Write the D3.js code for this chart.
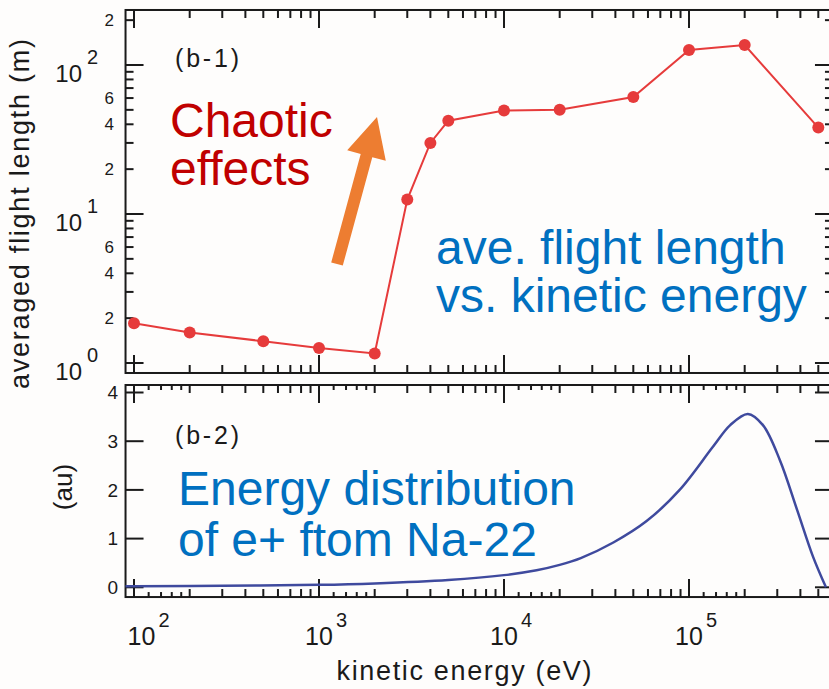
<!DOCTYPE html>
<html>
<head>
<meta charset="utf-8">
<title></title>
<style>
  body { margin: 0; background: #fefdfc; }
  svg { display: block; }
  text { font-family: "Liberation Sans", Arial, sans-serif; fill: #1a1a1a; }
  .frame { fill: none; stroke: #1a1a1a; stroke-width: 2; }
  .tick line { stroke: #1a1a1a; stroke-width: 2; }
</style>
<script src="https://cdnjs.cloudflare.com/ajax/libs/d3/7.8.5/d3.min.js"></script>
</head>
<body>
<svg id="chart" width="829" height="689"></svg>
<script>
// (b-1) averaged flight length vs kinetic energy
var energy = [100, 200, 500, 1e3, 2e3, 3e3, 4e3, 5e3, 1e4, 2e4, 5e4, 1e5, 2e5, 5e5];
var flightLength = [1.85, 1.6, 1.4, 1.26, 1.16, 12.5, 30, 42.3, 49.5, 50, 61, 126, 136, 38];

// (b-2) energy distribution of e+ from Na-22
var specEnergy = [90, 100, 300, 1e3, 2e3, 5e3, 1e4, 1.5e4, 2e4, 2.6e4, 3.9e4, 5.9e4, 8.9e4, 1.35e5, 1.67e5, 2.08e5, 2.51e5, 3.1e5, 3.84e5, 4.68e5, 5.5e5];
var specValue = [0.02, 0.02, 0.03, 0.05, 0.08, 0.15, 0.25, 0.35, 0.46, 0.6, 0.92, 1.36, 2.0, 2.89, 3.33, 3.56, 3.33, 2.61, 1.59, 0.63, 0];

// ticks
var xMajor = [1e2, 1e3, 1e4, 1e5];
var xExp = ["2", "3", "4", "5"];
var lenMajor = [1, 10, 100];
var lenExp = ["0", "1", "2"];
var lenMinorLabeled = [2, 4, 6, 20, 40, 60, 200];
var lenMinorText = ["2", "4", "6", "2", "4", "6", "2"];
var auTicks = [0, 1, 2, 3, 4];

var svg = d3.select("#chart");

var x = d3.scaleLog().domain([1e2, 1e5]).range([134, 689]);
var xl = x(90), xr = x(6e5);
var y1 = d3.scaleLog().domain([1, 100]).range([363, 65]);
var y1t = y1(234), y1b = y1(0.857);
var y2 = d3.scaleLinear().domain([0, 4]).range([587.3, 392.5]);
var y2t = y2(4.154), y2b = y2(-0.2);

function logTicks(lo, hi, mults) {
  var out = [];
  for (var e = 0; e < 7; e++) {
    mults.forEach(function(m) {
      var v = m * Math.pow(10, e);
      if (v > lo && v < hi) out.push(v);
    });
  }
  return out;
}

var xMinor = logTicks(90, 6e5, [2, 3, 4, 5, 6, 7, 8, 9]);
var xTiny = logTicks(90, 6e5, [1.2, 1.4, 1.6, 1.8]);
var yMinor = logTicks(0.99, 234, [2, 3, 4, 5, 6, 7, 8, 9]);

var MAJ = 18, MIN = 8, TINY = 5;

// vertical ticks on a horizontal edge; dir = +1 down, -1 up
function vTicks(vals, yEdge, dir, len) {
  var g = svg.append("g").attr("class", "tick");
  g.selectAll(null).data(vals).enter().append("line")
    .attr("x1", function(d) { return x(d); }).attr("x2", function(d) { return x(d); })
    .attr("y1", yEdge).attr("y2", yEdge + dir * len);
}
// horizontal ticks on a vertical edge; dir = +1 right, -1 left
function hTicks(vals, scale, xEdge, dir, len) {
  var g = svg.append("g").attr("class", "tick");
  g.selectAll(null).data(vals).enter().append("line")
    .attr("y1", function(d) { return scale(d); }).attr("y2", function(d) { return scale(d); })
    .attr("x1", xEdge).attr("x2", xEdge + dir * len);
}

// ---------- top panel frame and ticks
svg.append("rect").attr("class", "frame")
  .attr("x", xl).attr("y", y1t).attr("width", xr - xl).attr("height", y1b - y1t);
[[y1t, 1], [y1b, -1]].forEach(function(e) {
  vTicks(xMajor, e[0], e[1], MAJ);
  vTicks(xMinor, e[0], e[1], MIN);
});
[[xl, 1], [xr, -1]].forEach(function(e) {
  hTicks(lenMajor, y1, e[0], e[1], MAJ);
  hTicks(yMinor, y1, e[0], e[1], MIN);
});

// ---------- bottom panel frame and ticks
svg.append("rect").attr("class", "frame")
  .attr("x", xl).attr("y", y2t).attr("width", xr - xl).attr("height", y2b - y2t);
[[y2t, 1], [y2b, -1]].forEach(function(e) {
  vTicks(xMajor, e[0], e[1], MAJ);
  vTicks(xMinor, e[0], e[1], MIN);
  vTicks(xTiny, e[0], e[1], TINY);
});
[[xl, 1], [xr, -1]].forEach(function(e) {
  hTicks(auTicks, y2, e[0], e[1], MAJ);
});

// ---------- tick labels
var yLab = svg.append("g");
yLab.selectAll(null).data(lenMajor).enter().append("text")
  .attr("x", 82).attr("y", function(d) { return y1(d) + 17; })
  .attr("text-anchor", "end").style("font-size", "24px").text("10");
yLab.selectAll(null).data(lenMajor).enter().append("text")
  .attr("x", 87).attr("y", function(d) { return y1(d) - 1; })
  .style("font-size", "20px").text(function(d, i) { return lenExp[i]; });
yLab.selectAll(null).data(lenMinorLabeled).enter().append("text")
  .attr("x", 114).attr("y", function(d) { return y1(d); }).attr("dy", "0.35em")
  .attr("text-anchor", "end").style("font-size", "17px")
  .text(function(d, i) { return lenMinorText[i]; });
yLab.selectAll(null).data(auTicks).enter().append("text")
  .attr("x", 118).attr("y", function(d) { return y2(d); }).attr("dy", "0.36em")
  .attr("text-anchor", "end").style("font-size", "19px").text(function(d) { return d; });

var xLab = svg.append("g");
function xLabStart(d) { return Math.max(x(d) - 14, xl + 2); }
xLab.selectAll(null).data(xMajor).enter().append("text")
  .attr("x", xLabStart).attr("y", 645).style("font-size", "25px").text("10");
xLab.selectAll(null).data(xMajor).enter().append("text")
  .attr("x", function(d) { return xLabStart(d) + 31; }).attr("y", 627)
  .style("font-size", "20px").text(function(d, i) { return xExp[i]; });

// ---------- axis titles
svg.append("text")
  .attr("transform", "translate(29,214) rotate(-90)")
  .attr("text-anchor", "middle").attr("textLength", 350).attr("lengthAdjust", "spacing")
  .style("font-size", "27px").text("averaged flight length (m)");
svg.append("text")
  .attr("transform", "translate(72,487) rotate(-90)")
  .attr("text-anchor", "middle").style("font-size", "26px").text("(au)");
svg.append("text")
  .attr("x", 464).attr("y", 680)
  .attr("text-anchor", "middle").attr("textLength", 255).attr("lengthAdjust", "spacing")
  .style("font-size", "27px").text("kinetic energy (eV)");

svg.append("text").attr("x", 175).attr("y", 67)
  .attr("textLength", 64).attr("lengthAdjust", "spacing")
  .style("font-size", "25px").text("(b-1)");
svg.append("text").attr("x", 175).attr("y", 444)
  .attr("textLength", 64).attr("lengthAdjust", "spacing")
  .style("font-size", "25px").text("(b-2)");

// ---------- data
var flight = energy.map(function(e, i) { return { e: e, v: flightLength[i] }; });
svg.append("path").datum(flight)
  .attr("fill", "none").attr("stroke", "#e63b3b").attr("stroke-width", 2)
  .attr("d", d3.line().x(function(d) { return x(d.e); }).y(function(d) { return y1(d.v); }));
svg.selectAll(null).data(flight).enter().append("circle")
  .attr("cx", function(d) { return x(d.e); }).attr("cy", function(d) { return y1(d.v); })
  .attr("r", 6).attr("fill", "#e63b3b");

var spec = specEnergy.map(function(e, i) { return { e: e, v: specValue[i] }; });
svg.append("path").datum(spec)
  .attr("fill", "none").attr("stroke", "#3f4a9e").attr("stroke-width", 2.5)
  .attr("d", d3.line().curve(d3.curveCatmullRom.alpha(0.5))
    .x(function(d) { return x(d.e); }).y(function(d) { return y2(d.v); }));

// ---------- annotations
var ann = svg.append("g").style("font-size", "48px");
ann.append("text").attr("x", 170).attr("y", 137).style("fill", "#c00000").text("Chaotic");
ann.append("text").attr("x", 170).attr("y", 185).style("fill", "#c00000").text("effects");
ann.append("text").attr("x", 436).attr("y", 264).style("fill", "#0070c0").text("ave. flight length");
ann.append("text").attr("x", 436).attr("y", 312).style("fill", "#0070c0").text("vs. kinetic energy");
ann.append("text").attr("x", 178).attr("y", 505).style("fill", "#0070c0").text("Energy distribution");
ann.append("text").attr("x", 178).attr("y", 556).style("fill", "#0070c0").text("of e+ ftom Na-22");

// orange arrow
var tail = [337, 264], tip = [377, 117];
var dx = tip[0] - tail[0], dy = tip[1] - tail[1], L = Math.hypot(dx, dy);
var u = [dx / L, dy / L], n = [-u[1], u[0]];
var base = [tip[0] - u[0] * 40, tip[1] - u[1] * 40];
function pt(p, k) { return [p[0] + n[0] * k, p[1] + n[1] * k]; }
svg.append("polygon")
  .attr("points", [pt(tail, -6), pt(base, -6), pt(base, -20), tip, pt(base, 20), pt(base, 6), pt(tail, 6)].join(" "))
  .attr("fill", "#ed7d31");
</script>
</body>
</html>
